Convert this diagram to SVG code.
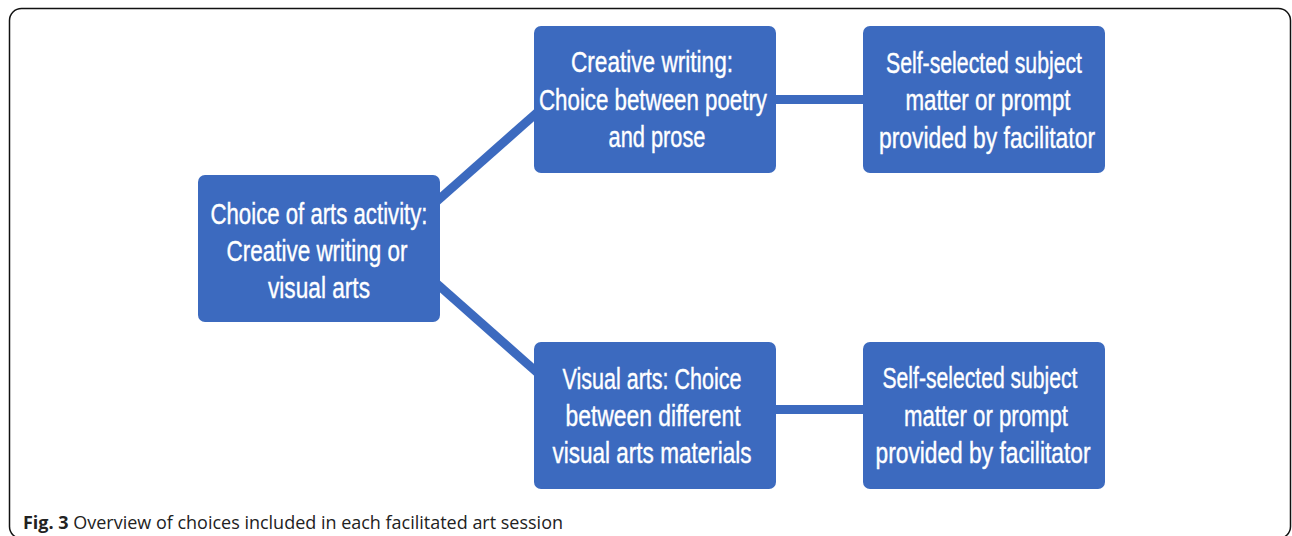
<svg xmlns="http://www.w3.org/2000/svg" width="1292" height="536" viewBox="0 0 1292 536">
<style>
.box{fill:#3C6ABF}
.t{font-family:"Liberation Sans","DejaVu Sans",sans-serif;font-size:29px;fill:#fff;text-anchor:middle;stroke:#fff;stroke-width:0.4}
.cap{font-family:"Open Sans","Liberation Sans",sans-serif;font-size:18px;fill:#222}
.conn{stroke:#3C6ABF;stroke-width:9;fill:none}
</style>
<rect x="9.5" y="8.5" width="1281" height="530" rx="12" fill="#fff" stroke="#111" stroke-width="1.5"/>
<g id="connectors">
<line class="conn" x1="436" y1="202" x2="540" y2="110"/>
<line class="conn" x1="436" y1="283" x2="540" y2="375"/>
<line class="conn" x1="770" y1="99.5" x2="870" y2="99.5"/>
<line class="conn" x1="770" y1="409.5" x2="870" y2="409.5"/>
</g>
<g id="root">
<rect class="box" x="198" y="175" width="242" height="147" rx="7"/>
<text class="t" x="319" y="224" textLength="217" lengthAdjust="spacingAndGlyphs">Choice of arts activity:</text>
<text class="t" x="317" y="261" textLength="181" lengthAdjust="spacingAndGlyphs">Creative writing or</text>
<text class="t" x="319" y="298" textLength="102" lengthAdjust="spacingAndGlyphs">visual arts</text>
</g>
<g id="creative">
<rect class="box" x="534" y="26" width="242" height="147" rx="7"/>
<text class="t" x="652" y="72" textLength="162" lengthAdjust="spacingAndGlyphs">Creative writing:</text>
<text class="t" x="653" y="110" textLength="228" lengthAdjust="spacingAndGlyphs">Choice between poetry</text>
<text class="t" x="657" y="147" textLength="97" lengthAdjust="spacingAndGlyphs">and prose</text>
</g>
<g id="self1">
<rect class="box" x="863" y="26" width="242" height="147" rx="7"/>
<text class="t" x="984" y="73" textLength="196" lengthAdjust="spacingAndGlyphs">Self-selected subject</text>
<text class="t" x="988" y="110" textLength="165" lengthAdjust="spacingAndGlyphs">matter or prompt</text>
<text class="t" x="987" y="148" textLength="216" lengthAdjust="spacingAndGlyphs">provided by facilitator</text>
</g>
<g id="visual">
<rect class="box" x="534" y="342" width="242" height="147" rx="7"/>
<text class="t" x="652" y="389" textLength="179" lengthAdjust="spacingAndGlyphs">Visual arts: Choice</text>
<text class="t" x="653" y="426" textLength="175" lengthAdjust="spacingAndGlyphs">between different</text>
<text class="t" x="652" y="463" textLength="199" lengthAdjust="spacingAndGlyphs">visual arts materials</text>
</g>
<g id="self2">
<rect class="box" x="863" y="342" width="242" height="147" rx="7"/>
<text class="t" x="980" y="388" textLength="195" lengthAdjust="spacingAndGlyphs">Self-selected subject</text>
<text class="t" x="986" y="426" textLength="164" lengthAdjust="spacingAndGlyphs">matter or prompt</text>
<text class="t" x="983" y="463" textLength="215" lengthAdjust="spacingAndGlyphs">provided by facilitator</text>
</g>
<text class="cap" x="23" y="529" textLength="540" lengthAdjust="spacingAndGlyphs"><tspan font-weight="bold">Fig. 3</tspan> Overview of choices included in each facilitated art session</text>
</svg>
